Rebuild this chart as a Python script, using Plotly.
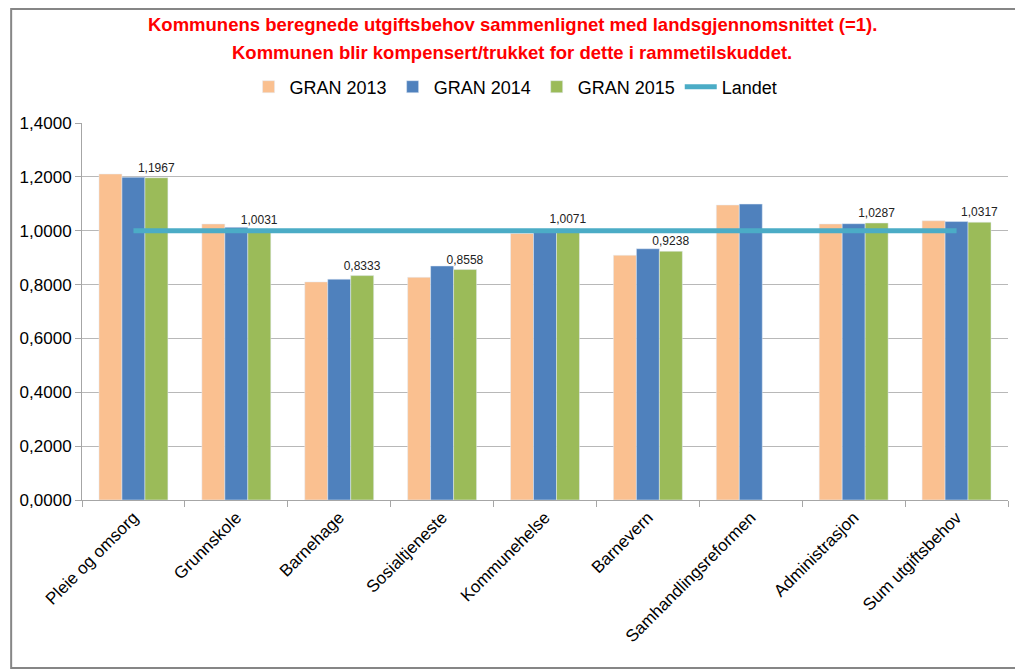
import plotly.graph_objects as go

categories = ["Pleie og omsorg", "Grunnskole", "Barnehage", "Sosialtjeneste", "Kommunehelse",
              "Barnevern", "Samhandlingsreformen", "Administrasjon", "Sum utgiftsbehov"]
gran_2013 = [1.2106, 1.0250, 0.8100, 0.8270, 0.9900, 0.9090, 1.0955, 1.0250, 1.0370]
gran_2014 = [1.1990, 1.0126, 0.8200, 0.8690, 1.0000, 0.9330, 1.0990, 1.0260, 1.0340]
gran_2015 = [1.1967, 1.0031, 0.8333, 0.8558, 1.0071, 0.9238, None, 1.0287, 1.0317]
landet = [1, 1, 1, 1, 1, 1, 1, 1, 1]
y_ticks = [0, 0.2, 0.4, 0.6, 0.8, 1.0, 1.2, 1.4]
title_lines = ["Kommunens beregnede utgiftsbehov sammenlignet med landsgjennomsnittet (=1).",
               "Kommunen blir kompensert/trukket for dette i rammetilskuddet."]

font = "Liberation Sans, Arial, sans-serif"

fig = go.Figure()
fig.add_trace(go.Bar(name="GRAN 2013", x=categories, y=gran_2013, marker_color="#FAC090"))
fig.add_trace(go.Bar(name="GRAN 2014", x=categories, y=gran_2014, marker_color="#4F81BD"))
fig.add_trace(go.Bar(name="GRAN 2015", x=categories, y=gran_2015, marker_color="#9BBB59",
                     texttemplate="%{y:.4f}", textposition="outside", cliponaxis=False,
                     constraintext="none",
                     textfont=dict(size=12, color="#222222")))
fig.add_trace(go.Scatter(name="Landet", x=categories, y=landet, mode="lines",
                         line=dict(color="#4BACC6", width=5)))

# page body has an 8px margin, so the figure is offset by 8px
L, R, T, B = 72, 15, 115, 169
W, H = 1015, 661
pw, ph = W - L - R, H - T - B
OFF = 8

def px_to_paper_x(px):
    return (px - OFF - L) / pw

def px_to_paper_y(py):
    return 1 + (T - (py - OFF)) / ph

annotations = []
for line, py in zip(title_lines, [25, 52]):
    annotations.append(dict(text=line, xref="paper", yref="paper",
                            x=px_to_paper_x(511), y=px_to_paper_y(py),
                            xanchor="center", yanchor="middle", showarrow=False,
                            font=dict(family=font, size=18.5, color="#FF0000", weight="bold")))

fig.update_layout(
    width=W, height=H,
    margin=dict(l=L, r=R, t=T, b=B),
    paper_bgcolor="white", plot_bgcolor="white",
    separators=", ",
    barmode="group", bargap=0.33, bargroupgap=0,
    font=dict(family=font, size=17, color="#000000"),
    annotations=annotations,
    legend=dict(orientation="h", x=px_to_paper_x(514), xanchor="center",
                y=px_to_paper_y(87), yanchor="middle",
                font=dict(size=18), itemwidth=32, traceorder="normal"),
    xaxis=dict(tickangle=-45, showline=True, linecolor="#A6A6A6", ticks="outside",
               tickson="boundaries", ticklen=6, tickcolor="#A6A6A6",
               tickfont=dict(size=17)),
    yaxis=dict(range=[0, 1.4], tickvals=y_ticks, tickformat=".4f", showgrid=True,
               gridcolor="#B8B8B8", showline=True, linecolor="#A6A6A6", ticks="outside",
               ticklen=6, tickcolor="#A6A6A6", tickfont=dict(size=17), zeroline=False),
    shapes=[dict(type="rect", xref="paper", yref="paper",
                 x0=-(L - 1) / pw, x1=1 + (R - 1) / pw,
                 y0=-(B - 1) / ph, y1=1 + (T - 1) / ph,
                 line=dict(color="#868686", width=2))],
)

fig.write_html("out.html")
